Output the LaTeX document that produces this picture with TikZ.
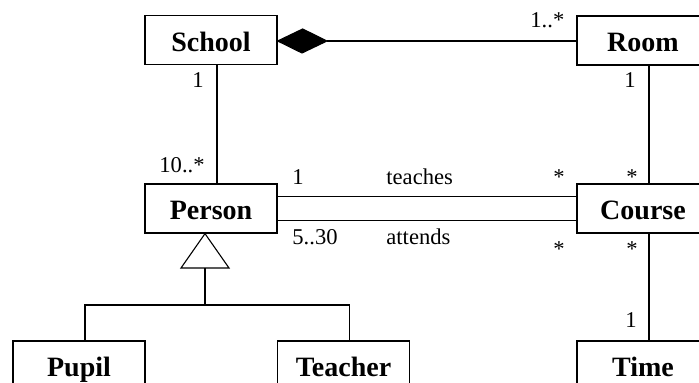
\documentclass[tikz,border=0pt]{standalone}
\usepackage{fontspec}
\setmainfont{Liberation Serif}
\usetikzlibrary{arrows.meta}
\tikzset{
  cls/.style={draw, line width=0.65pt, minimum width=66pt, minimum height=24.5pt, inner sep=0pt, text height=18pt, text depth=6.5pt, font=\fontsize{14}{16}\selectfont\bfseries},
  lbl/.style={inner sep=0pt, font=\fontsize{11.3}{13}\selectfont},
  conn/.style={line width=0.55pt},
}
\begin{document}
\begin{tikzpicture}[x=0.5pt,y=-0.5pt]
\useasboundingbox (0,0) rectangle (699,383);
\clip (0,0) rectangle (699,383);
% classes
\node[cls] (school) at (211,40) {School};
\node[cls] (room) at (643,40.5) {Room};
\node[cls] (person) at (211,208.5) {Person};
\node[cls] (course) at (643,208.5) {Course};
\node[cls] (pupil) at (79,365.5) {Pupil};
\node[cls] (teacher) at (343.5,365.5) {Teacher};
\node[cls] (time) at (643,365.5) {Time};
% composition
\coordinate (dtip) at (327,41);
\draw[conn, fill=black] (school.east |- dtip) -- ++(25,-12) -- (dtip) -- ++(-25,12) -- cycle;
\draw[conn] (dtip) -- (room.west |- dtip);
% associations
\draw[conn] ([xshift=3pt]school.south) -- ([xshift=3pt]person.north);
\draw[conn] ([xshift=3pt]room.south) -- ([xshift=3pt]course.north);
\draw[conn] ([xshift=3pt]course.south) -- ([xshift=3pt]time.north);
\draw[conn] ([yshift=6pt]person.east) -- ([yshift=6pt]course.west);
\draw[conn] ([yshift=-6pt]person.east) -- ([yshift=-6pt]course.west);
% generalization
\coordinate (apex) at ([xshift=-3pt]person.south);
\coordinate (tbase) at (205,268);
\coordinate (bar) at (205,305);
\draw[conn] (apex) -- (229,268) -- (181,268) -- cycle;
\draw[conn] (tbase) -- (bar);
\draw[conn] ([xshift=3pt]pupil.north) |- (bar) -| ([xshift=3pt]teacher.north);
% labels
\node[lbl, anchor=base west] (m1) at (530,28) {1..*};
\node[lbl, anchor=base] (m2) at (198,88) {1};
\node[lbl, anchor=base] (m3) at (630,88) {1};
\node[lbl, anchor=base west] (m4) at (159,173) {10..*};
\node[lbl, anchor=base west] (m5) at (292,185) {1};
\node[lbl, anchor=base west] (r1) at (386,185) {teaches};
\node[lbl, anchor=base] (m6) at (559,185) {*};
\node[lbl, anchor=base] (m7) at (632,185) {*};
\node[lbl, anchor=base west] (m8) at (292,245) {5..30};
\node[lbl, anchor=base west] (r2) at (386,245) {attends};
\node[lbl, anchor=base] (m9) at (559,257) {*};
\node[lbl, anchor=base] (m10) at (632,257) {*};
\node[lbl, anchor=base] (m11) at (631,328) {1};
\end{tikzpicture}
\end{document}
